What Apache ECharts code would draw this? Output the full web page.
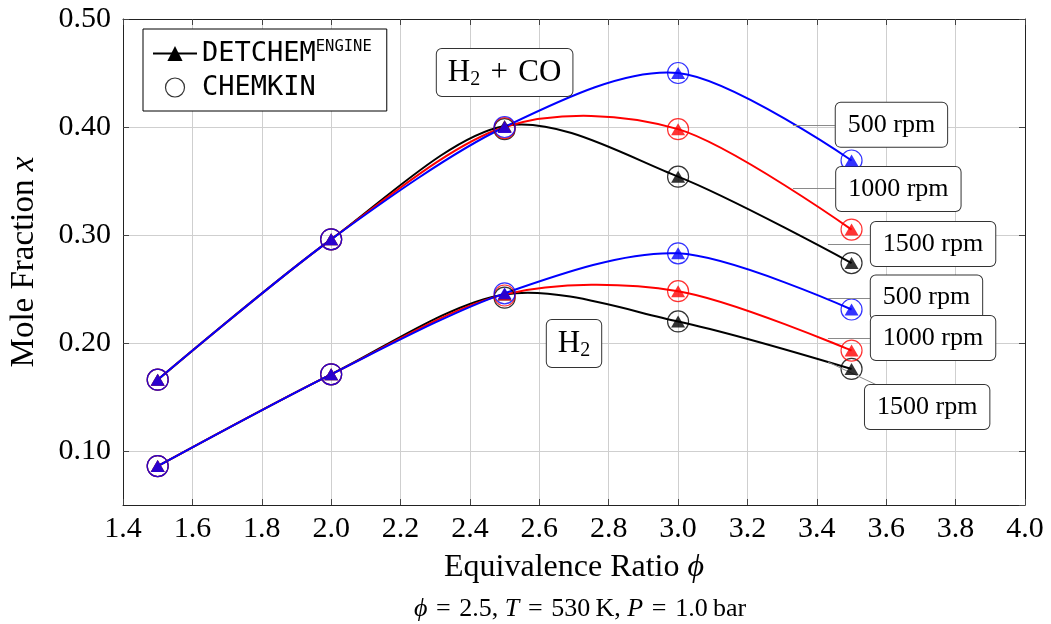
<!DOCTYPE html>
<html><head><meta charset="utf-8">
<script src="https://cdn.jsdelivr.net/npm/echarts@6/dist/echarts.min.js"></script>
<style>html,body{margin:0;padding:0;background:#fff}#c{width:1051px;height:624px}</style>
</head><body><div id="c"></div>
<script>
// ---- data ----
const phi = [1.5, 2.0, 2.5, 3.0, 3.5];
const speeds = ['500 rpm', '1000 rpm', '1500 rpm'];
// DETCHEM^ENGINE (smooth lines with triangles)
const detH2CO_500  = [0.166, 0.296, 0.400, 0.450, 0.369];
const detH2CO_1000 = [0.166, 0.296, 0.400, 0.398, 0.305];
const detH2CO_1500 = [0.166, 0.296, 0.401, 0.354, 0.274];
const detH2_500    = [0.086, 0.171, 0.246, 0.283, 0.231];
const detH2_1000   = [0.086, 0.171, 0.245, 0.248, 0.193];
const detH2_1500   = [0.086, 0.171, 0.245, 0.220, 0.176];
// CHEMKIN (open circles)
const chkH2CO_500  = [0.166, 0.296, 0.400, 0.450, 0.369];
const chkH2CO_1000 = [0.166, 0.296, 0.399, 0.398, 0.305];
const chkH2CO_1500 = [0.166, 0.296, 0.398, 0.354, 0.274];
const chkH2_500    = [0.086, 0.171, 0.246, 0.283, 0.231];
const chkH2_1000   = [0.086, 0.171, 0.244, 0.248, 0.193];
const chkH2_1500   = [0.086, 0.171, 0.242, 0.220, 0.176];

// ---- style ----
const SERIF = '"Liberation Serif", "DejaVu Serif", serif';
const MONO = '"DejaVu Sans Mono", monospace';
const colors = { '500 rpm': '#0000ff', '1000 rpm': '#ff0000', '1500 rpm': '#000000' };

const pairs = v => phi.map((x, i) => [x, v[i]]);

const detSets = [
  ['H2CO 1500', detH2CO_1500, '1500 rpm'], ['H2 1500', detH2_1500, '1500 rpm'],
  ['H2CO 1000', detH2CO_1000, '1000 rpm'], ['H2 1000', detH2_1000, '1000 rpm'],
  ['H2CO 500', detH2CO_500, '500 rpm'], ['H2 500', detH2_500, '500 rpm']
];
const chkSets = [
  ['c H2CO 1500', chkH2CO_1500, '1500 rpm'], ['c H2 1500', chkH2_1500, '1500 rpm'],
  ['c H2CO 1000', chkH2CO_1000, '1000 rpm'], ['c H2 1000', chkH2_1000, '1000 rpm'],
  ['c H2CO 500', chkH2CO_500, '500 rpm'], ['c H2 500', chkH2_500, '500 rpm']
];

// smooth curve (TikZ/pgfplots "smooth", tension 0.55) through the data points,
// positioned by the chart's own axes via api.coord
const TENSION = 0.2775 * 0.55;
function curveRenderer(vals, color) {
  return function (params, api) {
    if (params.dataIndex !== 0) return null;
    const p = phi.map((x, i) => api.coord([x, vals[i]]));
    let d = 'M' + p[0][0] + ',' + p[0][1];
    for (let i = 0; i < p.length - 1; i++) {
      const a = p[i - 1], b = p[i], c = p[i + 1], e = p[i + 2];
      const c1 = a ? [b[0] + TENSION * (c[0] - a[0]), b[1] + TENSION * (c[1] - a[1])] : b;
      const c2 = e ? [c[0] - TENSION * (e[0] - b[0]), c[1] - TENSION * (e[1] - b[1])] : c;
      d += ' C' + c1[0] + ',' + c1[1] + ' ' + c2[0] + ',' + c2[1] + ' ' + c[0] + ',' + c[1];
    }
    return { type: 'path', shape: { pathData: d },
      style: { fill: 'none', stroke: color, lineWidth: 2, lineJoin: 'round' } };
  };
}

const series = [];
detSets.forEach(([name, vals, sp], k) => {
  series.push({
    name: name + ' curve', type: 'custom', data: pairs(vals),
    renderItem: curveRenderer(vals, colors[sp]), z: 3 + k * 0.01, silent: true
  });
});
chkSets.forEach(([name, vals, sp], k) => {
  series.push({
    name, type: 'scatter', data: pairs(vals),
    symbol: 'circle', symbolSize: 21,
    itemStyle: { color: 'rgba(0,0,0,0)', borderColor: colors[sp], borderWidth: 1.2 },
    z: 4 + k * 0.01, silent: true
  });
});
detSets.forEach(([name, vals, sp], k) => {
  series.push({
    name: name + ' pts', type: 'scatter', data: pairs(vals),
    symbol: 'triangle', symbolSize: [14, 12],
    itemStyle: { color: colors[sp] }, z: 5 + k * 0.01, silent: true
  });
});
// legend-only series
series.push({ name: 'DETCHEM', type: 'line', data: [], symbol: 'triangle', color: '#000',
  lineStyle: { width: 2, color: '#000' }, itemStyle: { color: '#000' } });
series.push({ name: 'CHEMKIN', type: 'scatter', data: [], symbol: 'circle',
  itemStyle: { color: '#fff', borderColor: '#000', borderWidth: 1.2 } });

// annotation boxes (positions in data coordinates)
const boxLabel = {
  show: true, position: 'inside', color: '#000', fontFamily: SERIF, fontSize: 26,
  lineHeight: 30, backgroundColor: '#fff', borderColor: '#333', borderWidth: 1,
  borderRadius: 5, padding: [7, 12]
};
const richH = {
  n: { fontFamily: SERIF, fontSize: 31, lineHeight: 35, color: '#000' },
  s: { fontFamily: SERIF, fontSize: 20, lineHeight: 19, verticalAlign: 'bottom', color: '#000' }
};
const notes = [
  { coord: [2.5, 0.4505], text: '{n|H}{s|2}{n|\u2004+\u2004CO}', rich: true },
  { coord: [2.70, 0.1995], text: '{n|H}{s|2}', rich: true },
  { coord: [3.615, 0.402], text: speeds[0] },
  { coord: [3.635, 0.3426], text: speeds[1] },
  { coord: [3.735, 0.2917], text: speeds[2] },
  { coord: [3.716, 0.2421], text: speeds[0] },
  { coord: [3.735, 0.2046], text: speeds[1] },
  { coord: [3.718, 0.1407], text: speeds[2] }
];
const pins = [
  [[3.331, 0.4015], [3.452, 0.4015]],
  [[3.331, 0.3435], [3.452, 0.3435]],
  [[3.432, 0.2917], [3.553, 0.2917]],
  [[3.432, 0.2417], [3.553, 0.2417]],
  [[3.432, 0.2046], [3.553, 0.2046]],
  [[3.432, 0.1824], [3.573, 0.1611]]
];
series.push({
  name: 'notes', type: 'scatter', data: [], z: 10, silent: true,
  markLine: {
    silent: true, symbol: ['none', 'none'], animation: false,
    lineStyle: { color: '#8a8a8a', width: 1, type: 'solid' }, label: { show: false },
    data: pins.map(p => [{ coord: p[0] }, { coord: p[1] }])
  },
  markPoint: {
    silent: true, animation: false, symbol: 'rect', symbolSize: 1,
    itemStyle: { color: 'rgba(0,0,0,0)' },
    data: notes.map(n => ({
      coord: n.coord,
      label: Object.assign({}, boxLabel, { formatter: n.text },
        n.rich ? { rich: richH, padding: [6, 11, 6, 11] } : {})
    }))
  }
});

const EQ = '\u2004=\u2004';
const option = {
  animation: false,
  backgroundColor: '#fff',
  grid: { left: 123, right: 26, top: 19, bottom: 119, containLabel: false },
  title: {
    text: '{i|ϕ}' + EQ + '2.5, {i|T}' + EQ + '530\u2009K, {i|P}' + EQ + '1.0\u2009bar',
    left: 575, top: 591, textAlign: 'center',
    textStyle: { fontFamily: SERIF, fontSize: 26, fontWeight: 'normal', color: '#000',
      rich: { i: { fontFamily: SERIF, fontSize: 26, fontStyle: 'italic', color: '#000' } } }
  },
  legend: {
    orient: 'vertical', left: 143, top: 29,
    backgroundColor: '#fff', borderColor: '#000', borderWidth: 1, borderRadius: 0,
    padding: [10, 15, 10, 9], itemGap: 7, itemWidth: 44, itemHeight: 19,
    selectedMode: false,
    data: [
      { name: 'DETCHEM' },
      { name: 'CHEMKIN', icon: 'circle', itemStyle: { color: '#fff', borderColor: '#000', borderWidth: 1.2 } }
    ],
    formatter: n => n === 'DETCHEM' ? '{a|DETCHEM}{b|ENGINE}' : '{a|CHEMKIN}',
    textStyle: {
      fontFamily: MONO, fontSize: 27, color: '#000',
      rich: {
        a: { fontFamily: MONO, fontSize: 27, lineHeight: 29, color: '#000' },
        b: { fontFamily: MONO, fontSize: 15.5, lineHeight: 20, verticalAlign: 'top', color: '#000' }
      }
    }
  },
  xAxis: [{
    type: 'value', min: 1.4, max: 4.0, interval: 0.2,
    name: 'Equivalence Ratio {i|ϕ}', nameLocation: 'middle', nameGap: 47,
    nameTextStyle: { fontFamily: SERIF, fontSize: 32, color: '#000',
      rich: { i: { fontFamily: SERIF, fontSize: 32, fontStyle: 'italic', color: '#000' } } },
    axisLine: { show: true, onZero: false, lineStyle: { color: '#222', width: 1 } },
    axisTick: { show: true, inside: true, length: 6, lineStyle: { color: '#444' } },
    axisLabel: { fontFamily: SERIF, fontSize: 30, color: '#000', margin: 9,
      formatter: v => v.toFixed(1) },
    splitLine: { show: true, lineStyle: { color: '#cfcfcf', width: 1 } }
  }, {
    type: 'value', position: 'top', min: 1.4, max: 4.0, interval: 0.2,
    axisLine: { show: true, onZero: false, lineStyle: { color: '#222', width: 1 } },
    axisTick: { show: true, inside: true, length: 6, lineStyle: { color: '#444' } },
    axisLabel: { show: false }, splitLine: { show: false }
  }],
  yAxis: [{
    type: 'value', min: 0.05, max: 0.5, splitNumber: 5,
    name: 'Mole Fraction {i|x}', nameLocation: 'middle', nameGap: 82,
    nameTextStyle: { fontFamily: SERIF, fontSize: 33, color: '#000',
      rich: { i: { fontFamily: SERIF, fontSize: 33, fontStyle: 'italic', color: '#000' } } },
    axisLine: { show: true, onZero: false, lineStyle: { color: '#222', width: 1 } },
    axisTick: { show: true, inside: true, length: 6, lineStyle: { color: '#444' } },
    axisLabel: { fontFamily: SERIF, fontSize: 30, color: '#000', margin: 12,
      showMinLabel: false, formatter: v => v.toFixed(2) },
    splitLine: { show: true, lineStyle: { color: '#cfcfcf', width: 1 } }
  }, {
    type: 'value', position: 'right', min: 0.05, max: 0.5, splitNumber: 5,
    axisLine: { show: true, onZero: false, lineStyle: { color: '#222', width: 1 } },
    axisTick: { show: true, inside: true, length: 6, lineStyle: { color: '#444' } },
    axisLabel: { show: false }, splitLine: { show: false }
  }],
  series
};
const chart = echarts.init(document.getElementById('c'), null, { renderer: 'canvas' });
chart.setOption(option);
</script>
</body></html>
